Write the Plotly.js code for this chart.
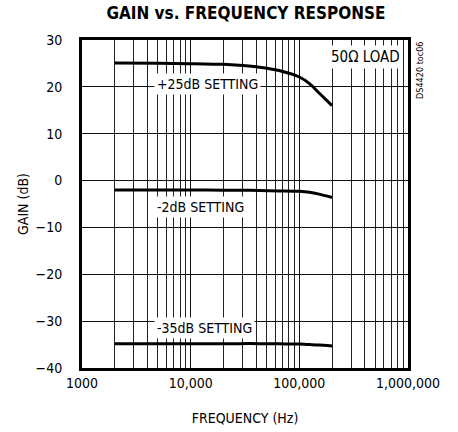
<!DOCTYPE html>
<html><head><meta charset="utf-8">
<script src="https://cdn.plot.ly/plotly-3.0.1.min.js"></script>
<style>html,body{margin:0;padding:0;background:#fff}#chart{width:458px;height:432px}</style>
</head><body><div id="chart"></div>
<script>
// Data
const freqHz  = [2000, 5000, 10000, 20000, 28000, 43000, 65000, 100000, 124000, 152000, 200000];
const gain25  = [25.1, 25.05, 24.95, 24.8, 24.6, 24.2, 23.5, 22.1, 20.7, 18.7, 16.0];
const gainM2  = [-2.0, -2.0, -2.0, -2.05, -2.05, -2.1, -2.2, -2.3, -2.5, -2.9, -3.6];
const gainM35 = [-34.8, -34.8, -34.8, -34.8, -34.8, -34.8, -34.85, -34.9, -35.0, -35.1, -35.3];
const xTickVals = [1000, 10000, 100000, 1000000];
const xTickText = ['1000', '10,000', '100,000', '1,000,000'];
const yTickVals = [-40, -30, -20, -10, 0, 10, 20, 30];
const seriesLabels = ['+25dB SETTING', '-2dB SETTING', '-35dB SETTING'];

const minorVals = [];
[1000, 10000, 100000].forEach(d => { for (let m = 2; m <= 9; m++) minorVals.push(m * d); });

const FONT = 'DejaVu Sans Condensed, DejaVu Sans, sans-serif';
const traces = [gain25, gainM2, gainM35].map((g, i) => ({
  x: freqHz, y: g, type: 'scatter', mode: 'lines',
  line: {color: '#000', width: 3, shape: 'spline', smoothing: 0.7},
  hoverinfo: 'skip', name: seriesLabels[i]
}));

const ann = (text, x, y, xanchor, size) => ({
  text: text, x: x, y: y, xref: 'x', yref: 'y', showarrow: false, xanchor: xanchor,
  bgcolor: '#fff', borderpad: 2, font: {family: FONT, size: size || 14, color: '#000'}
});

const layout = {
  width: 458, height: 432,
  margin: {l: 82, r: 50, t: 40, b: 64},
  paper_bgcolor: '#fff', plot_bgcolor: '#fff',
  showlegend: false,
  font: {family: FONT, size: 14, color: '#000'},
  title: {text: '<b>GAIN vs. FREQUENCY RESPONSE</b>', x: 0.537, xanchor: 'center', y: 0.97, yanchor: 'middle',
          font: {family: FONT, size: 17, color: '#000'}},
  xaxis: {
    type: 'log', range: [3, 6],
    tickvals: xTickVals, ticktext: xTickText,
    ticks: '',
    showgrid: true, gridcolor: '#111', gridwidth: 1,
    minor: {tickvals: minorVals, showgrid: true, gridcolor: '#222', gridwidth: 1, ticks: ''},
    showline: true, linecolor: '#000', linewidth: 3, mirror: true,
    zeroline: false,
    title: {text: 'FREQUENCY (Hz)', standoff: 24, font: {family: FONT, size: 14}}
  },
  yaxis: {
    range: [-40, 30], tickvals: yTickVals,
    ticks: 'outside', ticklen: 14, tickcolor: 'rgba(0,0,0,0)',
    showgrid: true, gridcolor: '#111', gridwidth: 1,
    showline: true, linecolor: '#000', linewidth: 3, mirror: true,
    zeroline: false,
    title: {text: 'GAIN (dB)', standoff: 4, font: {family: FONT, size: 14}}
  },
  annotations: [
    ann(seriesLabels[0], 3.66, 20.7, 'left'),
    ann(seriesLabels[1], 3.66, -5.55, 'left'),
    ann(seriesLabels[2], 3.66, -31.4, 'left'),
    ann('50Ω LOAD', 5.95, 26.3, 'right', 15),
    {text: 'DS4420 toc06', xref: 'paper', yref: 'paper', x: 1.035, y: 1.0, xanchor: 'center', yanchor: 'top',
     textangle: -90, showarrow: false, font: {family: FONT, size: 9, color: '#000'}}
  ]
};

Plotly.newPlot('chart', traces, layout, {displayModeBar: false, staticPlot: true});
</script></body></html>
